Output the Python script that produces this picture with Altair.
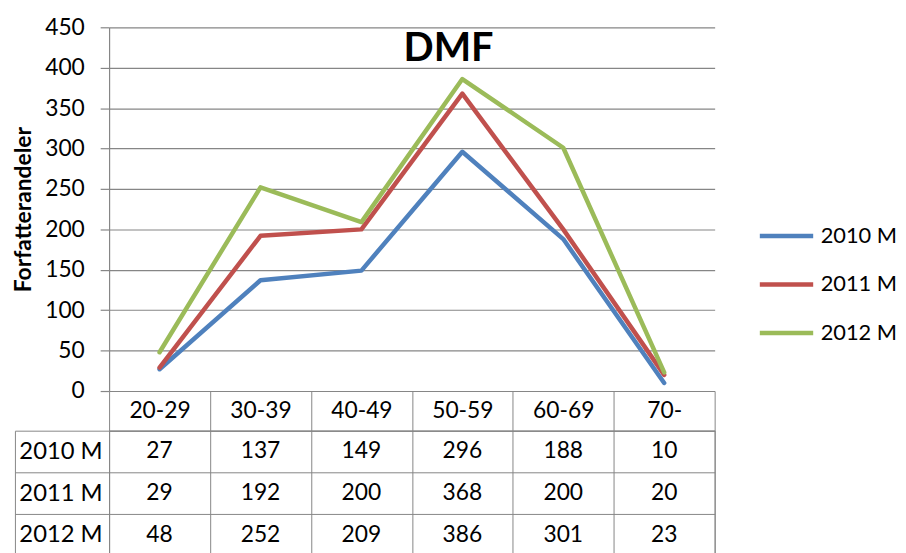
import altair as alt
import pandas as pd

categories = ["20-29", "30-39", "40-49", "50-59", "60-69", "70-"]
series_names = ["2010 M", "2011 M", "2012 M"]
values_2010 = [27, 137, 149, 296, 188, 10]
values_2011 = [29, 192, 200, 368, 200, 20]
values_2012 = [48, 252, 209, 386, 301, 23]
y_ticks = [0, 50, 100, 150, 200, 250, 300, 350, 400, 450]
colors = ["#4F81BD", "#C0504D", "#9BBB59"]

rows = []
for name, vals in zip(series_names, [values_2010, values_2011, values_2012]):
    for c, v in zip(categories, vals):
        rows.append({"cat": c, "series": name, "value": v})
df = pd.DataFrame(rows)

GRID = "#868686"
FONT = "Lato"
FS = 23

line = alt.Chart(df).mark_line(strokeWidth=4.5, strokeCap="round", strokeJoin="round").encode(
    x=alt.X("cat:O", sort=categories, scale=alt.Scale(type="point", domain=categories, padding=0.5), axis=None),
    y=alt.Y("value:Q", scale=alt.Scale(domain=[0, 450], nice=False, zero=True),
            axis=alt.Axis(values=y_ticks, tickSize=9, tickColor=GRID, domainColor=GRID, gridColor=GRID,
                          gridWidth=1.2, domainWidth=1.2, tickWidth=1.2,
                          labelFont=FONT, labelFontSize=FS, labelColor="black", labelPadding=16,
                          minExtent=60, maxExtent=60,
                          title="Forfatterandeler", titleFont=FONT, titleFontSize=23, titleFontWeight="bold",
                          titleColor="black", titlePadding=14)),
    color=alt.Color("series:N", sort=series_names,
                    scale=alt.Scale(domain=series_names, range=colors),
                    legend=alt.Legend(title=None, orient="none", legendX=654, legendY=181,
                                      symbolType="stroke", symbolSize=2900, symbolStrokeWidth=4.5,
                                      labelFont=FONT, labelFontSize=22, labelColor="black",
                                      labelOffset=5, rowPadding=8, padding=0)),
).properties(
    width=611, height=367,
    title=alt.TitleParams("DMF", font=FONT, fontSize=40, fontWeight="bold", color="black",
                          anchor="middle", dx=37, dy=41, offset=-44, baseline="alphabetic"),
    view=alt.ViewBackground(stroke=None),
)

tx = alt.X("cat:N", sort=categories, bandPosition=0.5,
           scale=alt.Scale(type="band", domain=categories, paddingInner=0, paddingOuter=0),
           axis=alt.Axis(orient="top", title=None, tickBand="extent", tickSize=40, tickColor=GRID,
                         domainColor=GRID, grid=True, gridColor=GRID, labelAngle=0,
                         labelFont=FONT, labelFontSize=FS, labelColor="black",
                         labelBaseline="middle", labelPadding=-20))

table_text = alt.Chart(df).mark_text(font=FONT, fontSize=FS, color="black", baseline="middle").encode(
    x=tx,
    y=alt.Y("series:N", sort=series_names, bandPosition=0.5,
            scale=alt.Scale(type="band", domain=series_names, paddingInner=0, paddingOuter=0),
            axis=alt.Axis(orient="left", title=None, tickBand="extent", tickSize=95, tickColor=GRID,
                          domain=False, grid=True, gridColor=GRID,
                          labelFont=FONT, labelFontSize=24, labelColor="black",
                          labelPadding=-88)),
    text="value:Q",
)

table_border = alt.Chart(df).mark_text(opacity=0).encode(
    x=tx,
    y=alt.Y("series:N", sort=series_names, bandPosition=0.5,
            scale=alt.Scale(type="band", domain=series_names, paddingInner=0, paddingOuter=0),
            axis=alt.Axis(orient="left", offset=95, title=None, labels=False, ticks=False,
                          grid=False, domain=True, domainColor=GRID)),
    text="value:Q",
)

table = alt.layer(table_text, table_border).resolve_axis(y="independent").properties(
    width=611, height=126, view=alt.ViewBackground(stroke=GRID)
)

chart = alt.vconcat(line, table, spacing=40, bounds="flush").properties(
    padding={"left": 5, "top": 6, "right": 0, "bottom": 0},
    background="white",
).configure(font=FONT)

chart.save("out.html", embed_options={"renderer": "svg", "actions": False})
